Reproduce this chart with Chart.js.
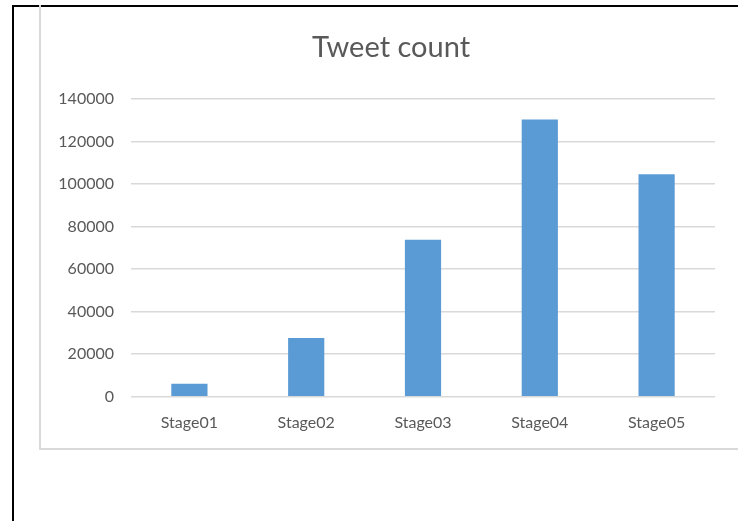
<!DOCTYPE html>
<html>
<head>
<meta charset="utf-8">
<script src="https://cdn.jsdelivr.net/npm/chart.js@4/dist/chart.umd.min.js"></script>
<style>
  html, body { margin: 0; background: #fff; overflow: hidden; width: 738px; height: 521px; }
  #frame { position: absolute; left: 12px; top: 5px; width: 740px; height: 530px;
           border-left: 2px solid #000; border-top: 2px solid #000; }
  #box { position: absolute; left: 39px; top: 5px; width: 710px; height: 443px;
         border-left: 2px solid #d9d9d9; border-bottom: 2px solid #d9d9d9; }
  #wrap { position: absolute; left: 41px; top: 7px; width: 700px; height: 441px; }
</style>
</head>
<body>
<div id="frame"></div>
<div id="box"></div>
<div id="wrap"><canvas id="tweetChart"></canvas></div>
<script>
// Tweet counts per stage
const stages = ['Stage01', 'Stage02', 'Stage03', 'Stage04', 'Stage05'];
const tweetCounts = [6100, 27600, 73800, 130300, 104500];

const textColor = '#595959';
const fontFamily = 'Lato, "Open Sans", sans-serif';

new Chart(document.getElementById('tweetChart'), {
  type: 'bar',
  data: {
    labels: stages,
    datasets: [
      {
        data: tweetCounts,
        backgroundColor: '#5b9bd5',
        barPercentage: 1,
        categoryPercentage: 0.31,
      },
    ],
  },
  options: {
    responsive: true,
    maintainAspectRatio: false,
    animation: false,
    layout: { padding: 0 },
    plugins: {
      legend: { display: false },
      tooltip: { enabled: false },
      title: {
        display: true,
        text: 'Tweet count',
        color: textColor,
        font: { family: fontFamily, size: 29, weight: 'normal' },
        padding: { top: 23, bottom: 34 },
      },
    },
    scales: {
      y: {
        min: 0,
        max: 140000,
        ticks: {
          stepSize: 20000,
          color: textColor,
          padding: 17,
          font: { family: fontFamily, size: 16 },
          callback: (v) => String(v),
        },
        grid: { color: '#d9d9d9', lineWidth: 1.5, drawTicks: false },
        border: { display: false },
        afterFit: (s) => { s.width = 90 },
      },
      // empty right axis just to leave a gap after the plot, title stays centred
      yRight: {
        position: 'right',
        grid: { display: false, drawTicks: false },
        ticks: { display: false },
        border: { display: false },
        afterFit: (s) => { s.width = 26 },
      },
      x: {
        grid: { display: false, drawTicks: false },
        border: { display: false },
        ticks: { color: textColor, padding: 16, font: { family: fontFamily, size: 16 } },
      },
    },
  },
})
</script>
</body>
</html>
